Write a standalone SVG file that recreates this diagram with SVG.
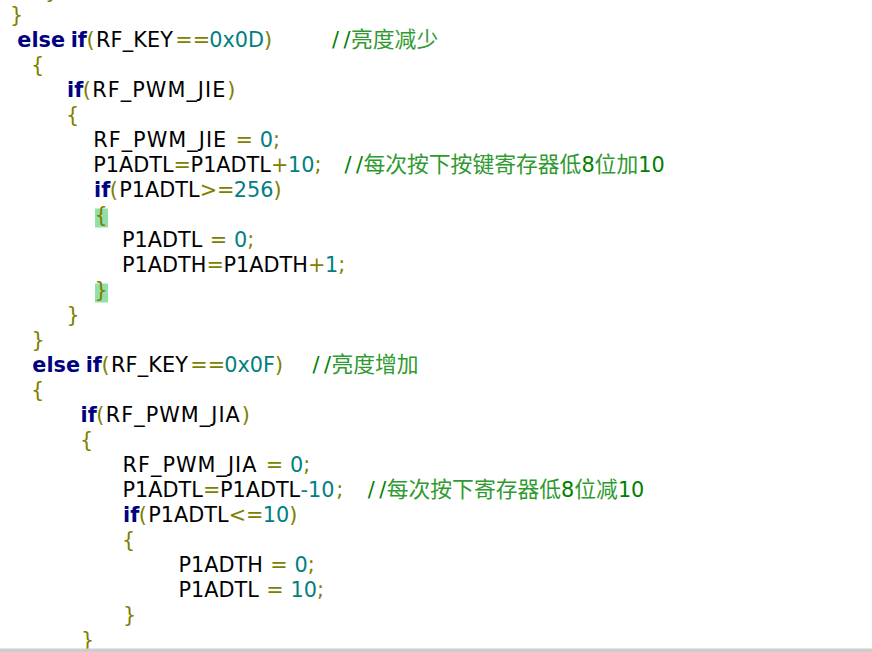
<svg xmlns="http://www.w3.org/2000/svg" width="872" height="652" viewBox="0 0 872 652">
<style>
text { font-family: "DejaVu Sans", Verdana, sans-serif; font-size: 20.8px; }
.k { fill: #000080; font-weight: bold; }
.i { fill: #000000; }
.o { fill: #808000; }
.n { fill: #008080; }
.m { fill: #008000; }
.z { fill: #2f9a2f; font-family: "Noto Sans CJK SC", "DejaVu Sans", sans-serif; font-size: 21.8px; }
.hl { fill: #90e0a8; }
</style>
<rect x="0" y="0" width="872" height="652" fill="#ffffff"/>
<g id="highlights">
<rect class="hl" x="95" y="208.5" width="13" height="19"/>
<rect class="hl" x="95" y="283.5" width="13" height="19"/>
</g>
<g id="code">
<text y="-2.5"><tspan class="o" x="45">}</tspan></text>
<text y="22"><tspan class="o" x="10">}</tspan></text>
<text y="47"><tspan class="k" x="17.3">else</tspan><tspan class="k" x="70.7">if</tspan><tspan class="o" x="86.6">(</tspan><tspan class="i" x="96" textLength="77">RF_KEY</tspan><tspan class="o" x="175.3">==</tspan><tspan class="n" x="209.3">0x0D</tspan><tspan class="o" x="264.1">)</tspan><tspan class="m" x="332" textLength="18.5">//</tspan><tspan class="z" x="351">亮度减少</tspan></text>
<text y="72"><tspan class="o" x="31">{</tspan></text>
<text y="97"><tspan class="k" x="67">if</tspan><tspan class="o" x="82.8">(</tspan><tspan class="i" x="92.3" textLength="133">RF_PWM_JIE</tspan><tspan class="o" x="227.2">)</tspan></text>
<text y="122"><tspan class="o" x="66">{</tspan></text>
<text y="147"><tspan class="i" x="93.2" textLength="133">RF_PWM_JIE</tspan><tspan class="o" x="235.4">=</tspan><tspan class="n" x="259.7">0</tspan><tspan class="o" x="272.9">;</tspan></text>
<text y="172"><tspan class="i" x="93.2">P1ADTL</tspan><tspan class="o" x="173.6">=</tspan><tspan class="i" x="190.6">P1ADTL</tspan><tspan class="o" x="271">+</tspan><tspan class="n" x="288.1">10</tspan><tspan class="o" x="314.5">;</tspan><tspan class="m" x="344.5" textLength="18.5">//</tspan><tspan class="z" x="363.4">每次按下按键寄存器低</tspan><tspan class="m" x="581.4">8</tspan><tspan class="z" x="594.6">位加</tspan><tspan class="m" x="638.2">10</tspan></text>
<text y="197"><tspan class="k" x="94">if</tspan><tspan class="o" x="109.8">(</tspan><tspan class="i" x="119.3">P1ADTL</tspan><tspan class="o" x="199.7">&gt;=</tspan><tspan class="n" x="233.7">256</tspan><tspan class="o" x="273.4">)</tspan></text>
<text y="222"><tspan class="o" x="94.5">{</tspan></text>
<text y="247"><tspan class="i" x="122">P1ADTL</tspan><tspan class="o" x="209.7">=</tspan><tspan class="n" x="234.1">0</tspan><tspan class="o" x="247.3">;</tspan></text>
<text y="272"><tspan class="i" x="122">P1ADTH</tspan><tspan class="o" x="206.5">=</tspan><tspan class="i" x="223.5">P1ADTH</tspan><tspan class="o" x="308">+</tspan><tspan class="n" x="325">1</tspan><tspan class="o" x="338.2">;</tspan></text>
<text y="297"><tspan class="o" x="94.5">}</tspan></text>
<text y="322"><tspan class="o" x="66.5">}</tspan></text>
<text y="347"><tspan class="o" x="31.5">}</tspan></text>
<text y="372"><tspan class="k" x="32.3">else</tspan><tspan class="k" x="85.7">if</tspan><tspan class="o" x="101.6">(</tspan><tspan class="i" x="111" textLength="77">RF_KEY</tspan><tspan class="o" x="190.3">==</tspan><tspan class="n" x="224.3">0x0F</tspan><tspan class="o" x="275">)</tspan><tspan class="m" x="312.5" textLength="18.5">//</tspan><tspan class="z" x="331.4">亮度增加</tspan></text>
<text y="397"><tspan class="o" x="31">{</tspan></text>
<text y="422"><tspan class="k" x="80.5">if</tspan><tspan class="o" x="96.3">(</tspan><tspan class="i" x="105.8" textLength="134">RF_PWM_JIA</tspan><tspan class="o" x="241.8">)</tspan></text>
<text y="447"><tspan class="o" x="80">{</tspan></text>
<text y="472"><tspan class="i" x="122.5" textLength="134">RF_PWM_JIA</tspan><tspan class="o" x="265.8">=</tspan><tspan class="n" x="290.1">0</tspan><tspan class="o" x="303.3">;</tspan></text>
<text y="497"><tspan class="i" x="122.5">P1ADTL</tspan><tspan class="o" x="202.9">=</tspan><tspan class="i" x="219.9">P1ADTL</tspan><tspan class="n" x="300.4">-10</tspan><tspan class="o" x="336.3">;</tspan><tspan class="m" x="367.8" textLength="18.5">//</tspan><tspan class="z" x="386.7">每次按下寄存器低</tspan><tspan class="m" x="561.1">8</tspan><tspan class="z" x="574.3">位减</tspan><tspan class="m" x="617.9">10</tspan></text>
<text y="522"><tspan class="k" x="123">if</tspan><tspan class="o" x="138.8">(</tspan><tspan class="i" x="148.3">P1ADTL</tspan><tspan class="o" x="228.7">&lt;=</tspan><tspan class="n" x="262.7">10</tspan><tspan class="o" x="289.2">)</tspan></text>
<text y="547"><tspan class="o" x="122">{</tspan></text>
<text y="572"><tspan class="i" x="178.5">P1ADTH</tspan><tspan class="o" x="270.3">=</tspan><tspan class="n" x="294.6">0</tspan><tspan class="o" x="307.8">;</tspan></text>
<text y="597"><tspan class="i" x="178.5">P1ADTL</tspan><tspan class="o" x="266.2">=</tspan><tspan class="n" x="290.6">10</tspan><tspan class="o" x="317">;</tspan></text>
<text y="622"><tspan class="o" x="123">}</tspan></text>
<text y="647"><tspan class="o" x="81">}</tspan></text>
</g>
<rect id="bottom-bar" x="0" y="648.5" width="872" height="3.5" fill="#cdcdcd"/>
</svg>
